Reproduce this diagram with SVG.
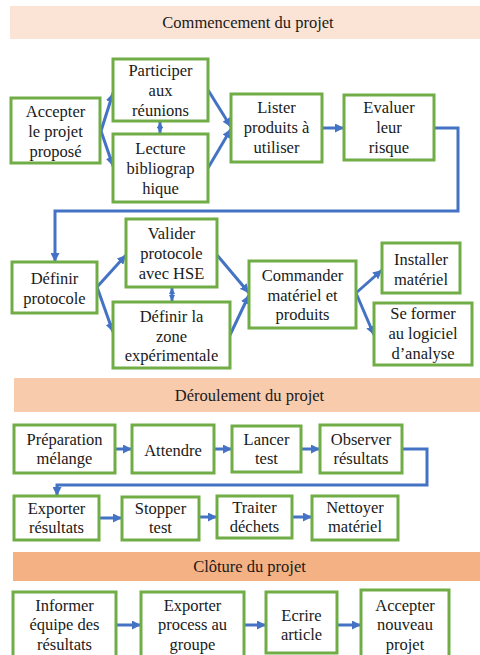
<svg xmlns="http://www.w3.org/2000/svg" width="480" height="655" viewBox="0 0 480 655">
<defs>
<style>
.box{fill:#fff;stroke:#70AD47;stroke-width:3}
.t{font-family:'Liberation Serif',serif;font-size:16.5px;fill:#1a1a1a;text-anchor:middle}
.c{fill:none;stroke:#4472C4;stroke-width:3}
.a{marker-end:url(#ah)}
.d{marker-start:url(#sh);marker-end:url(#sh)}
</style>
<marker id="ah" viewBox="0 0 10 10" refX="10" refY="5" markerWidth="9" markerHeight="9" markerUnits="userSpaceOnUse" orient="auto-start-reverse"><path d="M0,0 L10,5 L0,10 z" fill="#4472C4"/></marker>
<marker id="sh" viewBox="0 0 10 10" refX="10" refY="5" markerWidth="6" markerHeight="7" markerUnits="userSpaceOnUse" orient="auto-start-reverse"><path d="M0,0 L10,5 L0,10 z" fill="#4472C4"/></marker>
</defs>
<rect width="480" height="655" fill="#fff"/>

<g id="h1"><rect x="10" y="6" width="470" height="33" fill="#FBE4D5"/><text class="t" font-family="Liberation Serif" x="248" y="28">Commencement du projet</text></g>
<g id="h2"><rect x="14" y="378" width="466" height="34" fill="#F8CBAD"/><text class="t" font-family="Liberation Serif" x="249.5" y="400.5">Déroulement du projet</text></g>
<g id="h3"><rect x="13" y="552" width="467" height="29" fill="#F4B183"/><text class="t" font-family="Liberation Serif" x="249.5" y="571.5">Clôture du projet</text></g>

<g id="connectors">
<line class="c a" x1="101" y1="131" x2="113" y2="93"/>
<line class="c a" x1="101" y1="131" x2="113" y2="166"/>
<line class="c d" x1="160" y1="122" x2="160" y2="133"/>
<line class="c a" x1="208" y1="90" x2="231" y2="127"/>
<line class="c a" x1="208" y1="168" x2="231" y2="129"/>
<line class="c a" x1="322" y1="128" x2="344" y2="128"/>
<path class="c a" d="M434,128 H458 V211 H55 V262"/>
<line class="c a" x1="97" y1="287" x2="126" y2="255"/>
<line class="c a" x1="97" y1="287" x2="113" y2="332"/>
<line class="c d" x1="172" y1="288" x2="172" y2="301"/>
<line class="c a" x1="217" y1="255" x2="249" y2="293"/>
<line class="c a" x1="230" y1="335" x2="249" y2="295"/>
<line class="c a" x1="356" y1="293" x2="382" y2="270"/>
<line class="c a" x1="356" y1="293" x2="374" y2="335"/>
<line class="c a" x1="115" y1="449" x2="132" y2="449"/>
<line class="c a" x1="214" y1="449" x2="232" y2="449"/>
<line class="c a" x1="301" y1="449" x2="320" y2="449"/>
<path class="c a" d="M402,449 H427 V485 H57 V496"/>
<line class="c a" x1="99" y1="518" x2="122" y2="518"/>
<line class="c a" x1="199" y1="517" x2="217" y2="517"/>
<line class="c a" x1="292" y1="517" x2="312" y2="517"/>
<line class="c a" x1="116" y1="625" x2="141" y2="625"/>
<line class="c a" x1="244" y1="625" x2="266" y2="625"/>
<line class="c a" x1="337" y1="625" x2="361" y2="625"/>
</g>

<g font-family="Liberation Serif">
<g id="n-accepter"><rect class="box" x="11" y="98" width="89" height="65"/><text class="t" x="55.5" y="117">Accepter</text><text class="t" x="55.5" y="137">le projet</text><text class="t" x="55.5" y="157">proposé</text></g>
<g id="n-participer"><rect class="box" x="113" y="59" width="95" height="62"/><text class="t" x="160.5" y="76">Participer</text><text class="t" x="160.5" y="96">aux</text><text class="t" x="160.5" y="115.5">réunions</text></g>
<g id="n-lecture"><rect class="box" x="113" y="134" width="95" height="68"/><text class="t" x="160.5" y="154">Lecture</text><text class="t" x="160.5" y="174">bibliograp</text><text class="t" x="160.5" y="193.5">hique</text></g>
<g id="n-lister"><rect class="box" x="231" y="94" width="91" height="68"/><text class="t" x="276.5" y="113">Lister</text><text class="t" x="276.5" y="133">produits à</text><text class="t" x="276.5" y="152.5">utiliser</text></g>
<g id="n-evaluer"><rect class="box" x="344" y="95" width="90" height="65"/><text class="t" x="389" y="113">Evaluer</text><text class="t" x="389" y="133">leur</text><text class="t" x="389" y="152.5">risque</text></g>
<g id="n-definir"><rect class="box" x="12" y="262" width="85" height="51"/><text class="t" x="54.5" y="283.5">Définir</text><text class="t" x="54.5" y="303.5">protocole</text></g>
<g id="n-valider"><rect class="box" x="126" y="219" width="91" height="68"/><text class="t" x="171.5" y="238.5">Valider</text><text class="t" x="171.5" y="258.5">protocole</text><text class="t" x="171.5" y="278.5">avec HSE</text></g>
<g id="n-zone"><rect class="box" x="113" y="302" width="117" height="66"/><text class="t" x="171.5" y="321.5">Définir la</text><text class="t" x="171.5" y="341.5">zone</text><text class="t" x="171.5" y="360.5">expérimentale</text></g>
<g id="n-commander"><rect class="box" x="249" y="261" width="107" height="67"/><text class="t" x="302.5" y="280.5">Commander</text><text class="t" x="302.5" y="300.5">matériel et</text><text class="t" x="302.5" y="319.5">produits</text></g>
<g id="n-installer"><rect class="box" x="382" y="243" width="78" height="50"/><text class="t" x="421" y="264.5">Installer</text><text class="t" x="421" y="284.5">matériel</text></g>
<g id="n-former"><rect class="box" x="374" y="303" width="98" height="62"/><text class="t" x="423" y="318.5">Se former</text><text class="t" x="423" y="338.5">au logiciel</text><text class="t" x="423" y="358.5">d’analyse</text></g>

<g id="n-preparation"><rect class="box" x="14" y="425" width="101" height="48"/><text class="t" x="64.5" y="444.5">Préparation</text><text class="t" x="64.5" y="463.5">mélange</text></g>
<g id="n-attendre"><rect class="box" x="132" y="425" width="82" height="48"/><text class="t" x="173" y="455.5">Attendre</text></g>
<g id="n-lancer"><rect class="box" x="232" y="426" width="69" height="46"/><text class="t" x="266.5" y="444.5">Lancer</text><text class="t" x="266.5" y="463.5">test</text></g>
<g id="n-observer"><rect class="box" x="320" y="425" width="82" height="48"/><text class="t" x="361" y="444.5">Observer</text><text class="t" x="361" y="463.5">résultats</text></g>
<g id="n-exporter"><rect class="box" x="14" y="496" width="85" height="44"/><text class="t" x="56.5" y="513.5">Exporter</text><text class="t" x="56.5" y="532.5">résultats</text></g>
<g id="n-stopper"><rect class="box" x="122" y="497" width="77" height="43"/><text class="t" x="160.5" y="513.5">Stopper</text><text class="t" x="160.5" y="532.5">test</text></g>
<g id="n-traiter"><rect class="box" x="217" y="496" width="75" height="42"/><text class="t" x="254.5" y="512.5">Traiter</text><text class="t" x="254.5" y="532">déchets</text></g>
<g id="n-nettoyer"><rect class="box" x="312" y="496" width="86" height="44"/><text class="t" x="355" y="512.5">Nettoyer</text><text class="t" x="355" y="532">matériel</text></g>

<g id="n-informer"><rect class="box" x="13" y="592" width="103" height="75"/><text class="t" x="64.5" y="610.5">Informer</text><text class="t" x="64.5" y="629.5">équipe des</text><text class="t" x="64.5" y="649.5">résultats</text></g>
<g id="n-process"><rect class="box" x="141" y="592" width="103" height="75"/><text class="t" x="192.5" y="610.5">Exporter</text><text class="t" x="192.5" y="629.5">process au</text><text class="t" x="192.5" y="649.5">groupe</text></g>
<g id="n-ecrire"><rect class="box" x="266" y="592" width="71" height="61"/><text class="t" x="301.5" y="620.5">Ecrire</text><text class="t" x="301.5" y="639.5">article</text></g>
<g id="n-nouveau"><rect class="box" x="361" y="590" width="88" height="77"/><text class="t" x="405" y="610.5">Accepter</text><text class="t" x="405" y="629.5">nouveau</text><text class="t" x="405" y="649.5">projet</text></g>
</g>
</svg>
